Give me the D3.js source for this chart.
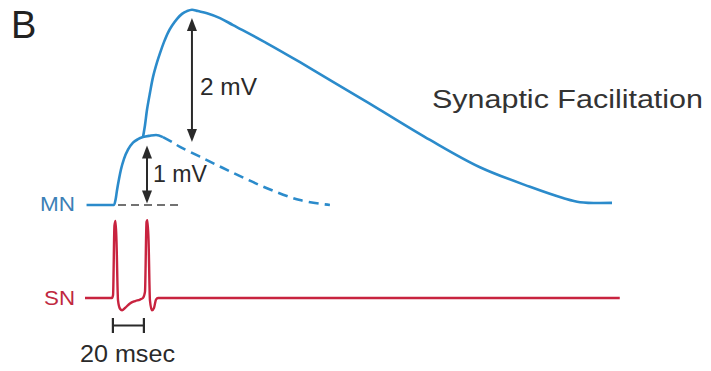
<!DOCTYPE html>
<html>
<head>
<meta charset="utf-8">
<script src="https://cdn.jsdelivr.net/npm/d3@7"></script>
<style>
    body { margin: 0; background: #fff; }
    text { font-family: "Liberation Sans", Arial, Helvetica, sans-serif; }
</style>
</head>
<body>
<div id="fig"></div>
<script>
// time in msec (spike 1 at 0, spike 2 at 20), MN voltage in mV
var mnRiseT = [-19, -1.29, -0.32, 0.65, 1.94, 3.23, 5.16, 7.74, 10.97, 14.19, 17.42, 21.94, 25.81, 30.32];
var mnRiseV = [0, 0, 0.07, 0.21, 0.37, 0.51, 0.66, 0.79, 0.89, 0.94, 0.97, 0.99, 1.0, 0.97];

// single EPSP decay (dashed)
var mnDecayT = [30.32, 36.1, 41.3, 54.2, 75.5, 97.4, 118.7, 138];
var mnDecayV = [0.97, 0.90, 0.83, 0.69, 0.46, 0.24, 0.07, 0];

// facilitated EPSP after second spike
var mnFacT = [17.42, 18.7, 20, 21.9, 23.9, 26.5, 28.4, 31, 33.5, 36.1, 39.4, 42.6, 45.8, 49, 52.9, 58.7, 67.1, 75.5, 97.4, 118.7, 140, 157.4, 170.3, 202.6, 234.8, 267.1, 288.4, 299.4, 320];
var mnFacV = [0.97, 1.14, 1.36, 1.6, 1.83, 2.04, 2.17, 2.33, 2.46, 2.56, 2.66, 2.73, 2.77, 2.79, 2.77, 2.74, 2.67, 2.57, 2.31, 2.04, 1.76, 1.53, 1.36, 0.93, 0.54, 0.26, 0.1, 0.04, 0.03];

// sensory neuron trace (relative units, spike peak = 100)
var snT = [-20, -2.6, -1.9, -1, -0.3, 0.3, 1.3, 2.6, 3.9, 5.8, 9, 12.3, 15.5, 17.4, 18.7, 19.7, 20.3, 21, 21.9, 23.2, 24.5, 25.8, 27.1, 325];
var snV = [0, 0, 4, 94, 100, 75, -3, -14, -16, -13, -7, -4, -2, 0, 8, 99, 101, 75, -3, -16, -13, -2, 0, 0];

// annotations
var arrow1 = { t: 20, from: 0.02, to: 0.85, label: "1 mV" };
var arrow2 = { t: 49, from: 0.9, to: 2.67, label: "2 mV" };
var baseDash = [1.3, 40];
var scaleBar = [-2, 18];

var w = 711, h = 371;

var svg = d3.select('#fig')
    .append('svg')
    .attr('width', w)
    .attr('height', h);

var xScale = d3.scaleLinear().domain([-20, 325]).range([85, 85 + 345 * 1.55]);
var yMN = d3.scaleLinear().domain([0, 2.8]).range([205, 205 - 2.8 * 70]);
var ySN = d3.scaleLinear().domain([0, 100]).range([298, 221]);

var blue = '#2b8bcb', red = '#c8233f', ink = '#2a2a2a';

function zip(ts, vs) {
    return ts.map(function (t, i) { return [t, vs[i]]; });
}

var mnLine = d3.line()
    .x(function (d) { return xScale(d[0]); })
    .y(function (d) { return yMN(d[1]); })
    .curve(d3.curveMonotoneX);

// smoother curve for the big and dashed traces
var mnSmooth = d3.line()
    .x(function (d) { return xScale(d[0]); })
    .y(function (d) { return yMN(d[1]); })
    .curve(d3.curveCatmullRom.alpha(0.5));

var snLine = d3.line()
    .x(function (d) { return xScale(d[0]); })
    .y(function (d) { return ySN(d[1]); })
    .curve(d3.curveMonotoneX);

// dashed baseline under the EPSP
svg.append('line')
    .attr('x1', xScale(baseDash[0])).attr('x2', xScale(baseDash[1]))
    .attr('y1', yMN(0)).attr('y2', yMN(0))
    .attr('stroke', '#444').attr('stroke-width', 1.6)
    .attr('stroke-dasharray', '8,5');

svg.append('path')
    .datum(zip(mnDecayT, mnDecayV))
    .attr('d', mnSmooth)
    .attr('fill', 'none').attr('stroke', blue).attr('stroke-width', 2.6)
    .attr('stroke-dasharray', '10,6');

svg.append('path')
    .datum(zip(mnFacT, mnFacV))
    .attr('d', mnSmooth)
    .attr('fill', 'none').attr('stroke', blue).attr('stroke-width', 2.6);

svg.append('path')
    .datum(zip(mnRiseT, mnRiseV))
    .attr('d', mnLine)
    .attr('fill', 'none').attr('stroke', blue).attr('stroke-width', 2.6);

svg.append('path')
    .datum(zip(snT, snV))
    .attr('d', snLine)
    .attr('fill', 'none').attr('stroke', red).attr('stroke-width', 2.4)
    .attr('stroke-linejoin', 'round');

// double headed arrows
function drawArrow(a) {
    var x = xScale(a.t), y1 = yMN(a.to), y2 = yMN(a.from);
    var hl = 13, hw = 5;
    svg.append('line')
        .attr('x1', x).attr('x2', x)
        .attr('y1', y1 + hl - 2).attr('y2', y2 - hl + 2)
        .attr('stroke', ink).attr('stroke-width', 2);
    svg.append('path')
        .attr('d', `M${x},${y1}L${x - hw},${y1 + hl}L${x + hw},${y1 + hl}Z`)
        .attr('fill', ink);
    svg.append('path')
        .attr('d', `M${x},${y2}L${x - hw},${y2 - hl}L${x + hw},${y2 - hl}Z`)
        .attr('fill', ink);
}
drawArrow(arrow1);
drawArrow(arrow2);

function label(x, y, size, fill, len, str) {
    svg.append('text').attr('x', x).attr('y', y)
        .attr('font-size', size).attr('fill', fill)
        .attr('textLength', len).attr('lengthAdjust', 'spacingAndGlyphs')
        .text(str);
}

label(153, 182, 23, ink, 54, arrow1.label);
label(200, 95, 23, ink, 57, arrow2.label);

// 20 msec scale bar
var sb0 = xScale(scaleBar[0]), sb1 = xScale(scaleBar[1]);
svg.append('path')
    .attr('d', `M${sb0},318V333M${sb0},325.5H${sb1}M${sb1},318V333`)
    .attr('fill', 'none').attr('stroke', ink).attr('stroke-width', 2.2);
label(80, 362, 23, ink, 95, '20 msec');

// labels
svg.append('text').attr('x', 11).attr('y', 38)
    .attr('font-size', 38).attr('fill', '#222').text('B');
label(40, 211, 20, '#3c7fb6', 35, 'MN');
label(44, 305, 21, '#c0283f', 31, 'SN');
label(432, 108, 26, '#333', 271, 'Synaptic Facilitation');
</script>
</body>
</html>
